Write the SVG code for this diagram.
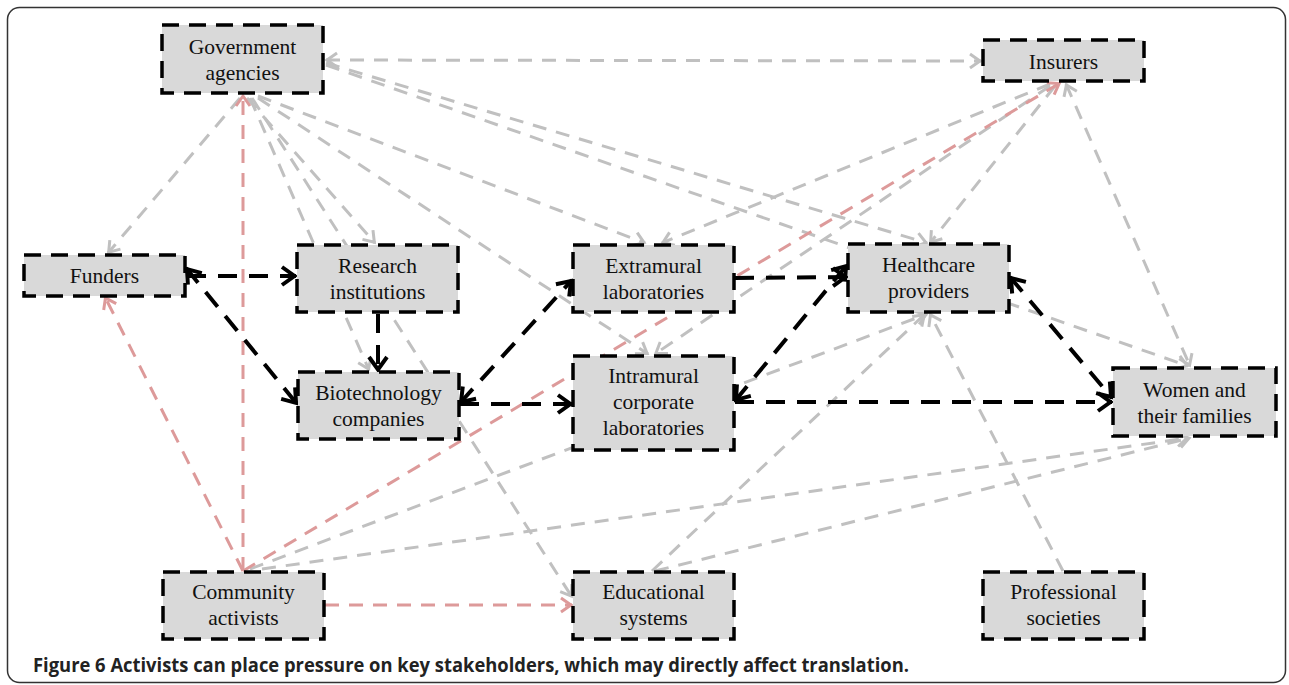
<svg xmlns="http://www.w3.org/2000/svg" width="1289" height="685" viewBox="0 0 1289 685">
<defs>
<style>
.box{fill:#d9d9d9;stroke:#000;stroke-width:3.5;stroke-dasharray:17 10;}
.lbl{font-family:"Liberation Serif","Times New Roman",serif;font-size:21.5px;fill:#111;text-anchor:middle;}
.g{stroke:#c0c0c0;stroke-width:3;stroke-dasharray:14 10;fill:none;marker-end:url(#ag);}
.r{stroke:#dd9a9a;stroke-width:3;stroke-dasharray:14 10;fill:none;marker-end:url(#ar);}
.k{stroke:#000;stroke-width:4;stroke-dasharray:19 12;fill:none;marker-end:url(#ak);}
.mg{fill:none;stroke:#c0c0c0;stroke-width:3;stroke-linejoin:miter;}
.mr{fill:none;stroke:#dd9a9a;stroke-width:3;stroke-linejoin:miter;}
.mk{fill:none;stroke:#000;stroke-width:4;stroke-linejoin:miter;}
.cap{font-family:"Open Sans","Liberation Sans",sans-serif;font-size:19px;font-weight:bold;fill:#222;}
</style>
<marker id="ag" markerUnits="userSpaceOnUse" viewBox="-16 -12 20 24" markerWidth="20" markerHeight="24" refX="0" refY="0" orient="auto-start-reverse" overflow="visible"><path class="mg" d="M-11,-7 L-1,0 L-11,7"/></marker>
<marker id="ar" markerUnits="userSpaceOnUse" viewBox="-16 -12 20 24" markerWidth="20" markerHeight="24" refX="0" refY="0" orient="auto-start-reverse" overflow="visible"><path class="mr" d="M-11,-7 L-1,0 L-11,7"/></marker>
<marker id="ak" markerUnits="userSpaceOnUse" viewBox="-18 -14 22 28" markerWidth="22" markerHeight="28" refX="0" refY="0" orient="auto-start-reverse" overflow="visible"><path class="mk" d="M-14,-9 L-1.5,0 L-14,9"/></marker>
</defs>
<rect x="7.5" y="7.5" width="1278" height="675" rx="12" fill="#fff" stroke="#333" stroke-width="1.5"/>
<g id="connectors">
<line class="g" x1="326" y1="60" x2="981" y2="61" style="marker-start:url(#ag)"/>
<line class="g" x1="326" y1="63" x2="927" y2="243"/>
<line class="g" x1="326" y1="65" x2="1188" y2="366"/>
<line class="g" x1="240" y1="98" x2="108" y2="253"/>
<line class="g" x1="250" y1="98" x2="369" y2="370"/>
<line class="g" x1="252" y1="98" x2="572" y2="597"/>
<line class="g" x1="247" y1="98" x2="375" y2="243"/>
<line class="g" x1="258" y1="98" x2="648" y2="354"/>
<line class="g" x1="258" y1="96" x2="645" y2="243"/>
<line class="g" x1="1050" y1="84" x2="662" y2="243"/>
<line class="g" x1="1050" y1="86" x2="655" y2="354"/>
<line class="g" x1="1055" y1="86" x2="930" y2="243"/>
<line class="g" x1="1066" y1="84" x2="1190" y2="366" style="marker-start:url(#ag)"/>
<line class="g" x1="250" y1="569" x2="927" y2="314"/>
<line class="g" x1="262" y1="569" x2="1188" y2="438"/>
<line class="g" x1="655" y1="571" x2="1190" y2="438"/>
<line class="g" x1="652" y1="571" x2="925" y2="314"/>
<line class="g" x1="1063" y1="571" x2="930" y2="314"/>
<line class="r" x1="243" y1="571" x2="243" y2="95"/>
<line class="r" x1="243" y1="571" x2="105" y2="297"/>
<line class="r" x1="243" y1="571" x2="1060" y2="83"/>
<line class="r" x1="325" y1="605" x2="572" y2="605"/>
<line class="k" x1="187" y1="276" x2="296" y2="276"/>
<line class="k" x1="186" y1="268" x2="297" y2="404" style="marker-start:url(#ak)"/>
<line class="k" x1="378" y1="314" x2="378" y2="371"/>
<line class="k" x1="460" y1="403" x2="572" y2="280" style="marker-start:url(#ak)"/>
<line class="k" x1="460" y1="404" x2="572" y2="404"/>
<line class="k" x1="735" y1="278" x2="847" y2="277"/>
<line class="k" x1="735" y1="401" x2="847" y2="265" style="marker-start:url(#ak)"/>
<line class="k" x1="735" y1="402" x2="1112" y2="402"/>
<line class="k" x1="1010" y1="277" x2="1112" y2="398" style="marker-start:url(#ak)"/>
</g>
<g id="node-gov"><rect class="box" x="162" y="25" width="161" height="68"/><text class="lbl"><tspan x="242.5" y="54">Government</tspan><tspan x="242.5" y="80">agencies</tspan></text></g>
<g id="node-insurers"><rect class="box" x="983" y="40" width="161" height="41"/><text class="lbl" x="1063.5" y="69">Insurers</text></g>
<g id="node-funders"><rect class="box" x="24" y="255" width="161" height="41"/><text class="lbl" x="104.5" y="283">Funders</text></g>
<g id="node-research"><rect class="box" x="297" y="245" width="161" height="67"/><text class="lbl"><tspan x="377.5" y="273">Research</tspan><tspan x="377.5" y="299">institutions</tspan></text></g>
<g id="node-biotech"><rect class="box" x="298" y="372" width="161" height="67"/><text class="lbl"><tspan x="378.5" y="400">Biotechnology</tspan><tspan x="378.5" y="426">companies</tspan></text></g>
<g id="node-extramural"><rect class="box" x="573" y="245" width="161" height="67"/><text class="lbl"><tspan x="653.5" y="273">Extramural</tspan><tspan x="653.5" y="299">laboratories</tspan></text></g>
<g id="node-intramural"><rect class="box" x="573" y="356" width="161" height="94"/><text class="lbl"><tspan x="653.5" y="383">Intramural</tspan><tspan x="653.5" y="409">corporate</tspan><tspan x="653.5" y="435">laboratories</tspan></text></g>
<g id="node-healthcare"><rect class="box" x="848" y="244" width="161" height="68"/><text class="lbl"><tspan x="928.5" y="272">Healthcare</tspan><tspan x="928.5" y="298">providers</tspan></text></g>
<g id="node-women"><rect class="box" x="1113" y="368" width="163" height="68"/><text class="lbl"><tspan x="1194.5" y="397">Women and</tspan><tspan x="1194.5" y="423">their families</tspan></text></g>
<g id="node-community"><rect class="box" x="163" y="572" width="161" height="67"/><text class="lbl"><tspan x="243.5" y="599">Community</tspan><tspan x="243.5" y="625">activists</tspan></text></g>
<g id="node-education"><rect class="box" x="573" y="572" width="161" height="67"/><text class="lbl"><tspan x="653.5" y="599">Educational</tspan><tspan x="653.5" y="625">systems</tspan></text></g>
<g id="node-professional"><rect class="box" x="983" y="572" width="161" height="67"/><text class="lbl"><tspan x="1063.5" y="599">Professional</tspan><tspan x="1063.5" y="625">societies</tspan></text></g>
<text class="cap" x="33" y="672" textLength="876" lengthAdjust="spacingAndGlyphs">Figure 6 Activists can place pressure on key stakeholders, which may directly affect translation.</text>
</svg>
